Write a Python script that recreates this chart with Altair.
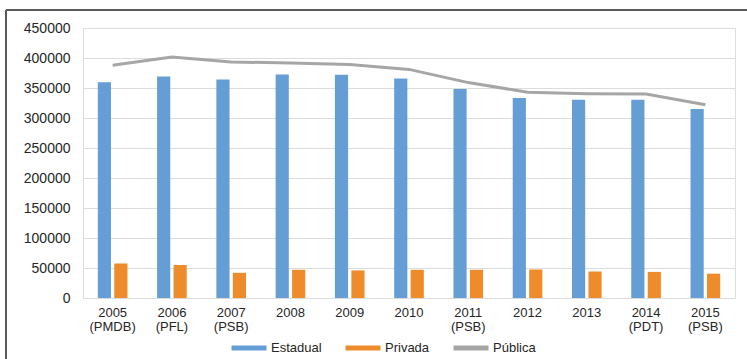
import altair as alt
import pandas as pd

# Categories: year plus the governing party (when it changed)
years = ["2005", "2006", "2007", "2008", "2009", "2010",
         "2011", "2012", "2013", "2014", "2015"]
parties = ["PMDB", "PFL", "PSB", "", "", "", "PSB", "", "", "PDT", "PSB"]

# Enrolment series
estadual = [359500, 369000, 364000, 372500, 372000, 366000,
            348500, 333500, 330500, 330500, 315000]
privada = [57500, 55000, 42000, 47000, 46000, 47000,
           47000, 47500, 44000, 43500, 40500]
publica = [388000, 401500, 393500, 391500, 389000, 381000,
           359000, 343000, 340500, 340000, 322000]

y_ticks = [0, 50000, 100000, 150000, 200000, 250000, 300000, 350000, 400000, 450000]
series_names = ["Estadual", "Privada", "Pública"]
series_colors = ["#659dd5", "#ee8c2b", "#a6a6a6"]

cats = [y + ("|(" + p + ")" if p else "") for y, p in zip(years, parties)]

bars_df = pd.DataFrame({
    "cat": cats * 2,
    "serie": ["Estadual"] * len(cats) + ["Privada"] * len(cats),
    "valor": estadual + privada,
})
line_df = pd.DataFrame({"cat": cats, "serie": ["Pública"] * len(cats), "valor": publica})

PAD_L, PAD_T, W, H = 83, 28, 652, 270

x_enc = alt.X(
    "cat:N", sort=cats, title=None,
    scale=alt.Scale(paddingInner=0.5, paddingOuter=0.25),
    axis=alt.Axis(labelExpr="split(datum.label, '|')", labelAngle=0,
                  labelFontSize=13, labelColor="#262626", labelPadding=8,
                  labelLineHeight=14, domain=False, ticks=False, grid=False),
)
y_enc = alt.Y(
    "valor:Q", title=None,
    scale=alt.Scale(domain=[0, 450000], nice=False),
    axis=alt.Axis(values=y_ticks, format="d", labelFontSize=14, labelColor="#262626",
                  labelPadding=13, labelOverlap=False, labelFlush=False,
                  domain=False, ticks=False, gridColor="#dcdcdc", gridWidth=1),
)
color_enc = alt.Color(
    "serie:N", title=None,
    scale=alt.Scale(domain=series_names, range=series_colors),
    legend=alt.Legend(orient="none", direction="horizontal", legendX=146, legendY=300,
                      symbolType="stroke", symbolSize=1225, symbolStrokeWidth=5,
                      labelFontSize=13, labelColor="#262626", labelOffset=2,
                      columnPadding=13, padding=0),
)

bars = alt.Chart(bars_df).mark_bar().encode(
    x=x_enc,
    xOffset=alt.XOffset("serie:N", sort=series_names[:2],
                        scale=alt.Scale(paddingInner=0.2, paddingOuter=0)),
    y=y_enc,
    color=color_enc,
)

line = alt.Chart(line_df).mark_line(strokeWidth=3).encode(
    x=x_enc,
    y=y_enc,
    color=color_enc,
)

# Frame lines along the top and left edge of the figure
frame_df = pd.DataFrame({"k": [0]})
top_rule = alt.Chart(frame_df).mark_rule(color="#5a5a5a", strokeWidth=2).encode(
    x=alt.value(6 - PAD_L), x2=alt.value(747 - PAD_L), y=alt.value(10 - PAD_T))
left_rule = alt.Chart(frame_df).mark_rule(color="#5a5a5a", strokeWidth=2).encode(
    x=alt.value(6 - PAD_L), y=alt.value(10 - PAD_T), y2=alt.value(359 - PAD_T))

chart = alt.layer(bars, line, top_rule, left_rule).properties(
    width=W, height=H,
    autosize=alt.AutoSizeParams(type="none"),
    padding={"left": PAD_L, "top": PAD_T, "right": 747 - PAD_L - W, "bottom": 359 - PAD_T - H},
    background="white",
).configure_view(stroke=None).configure(font="Liberation Sans")

chart.save("out.html", embed_options={"renderer": "svg", "actions": False})
